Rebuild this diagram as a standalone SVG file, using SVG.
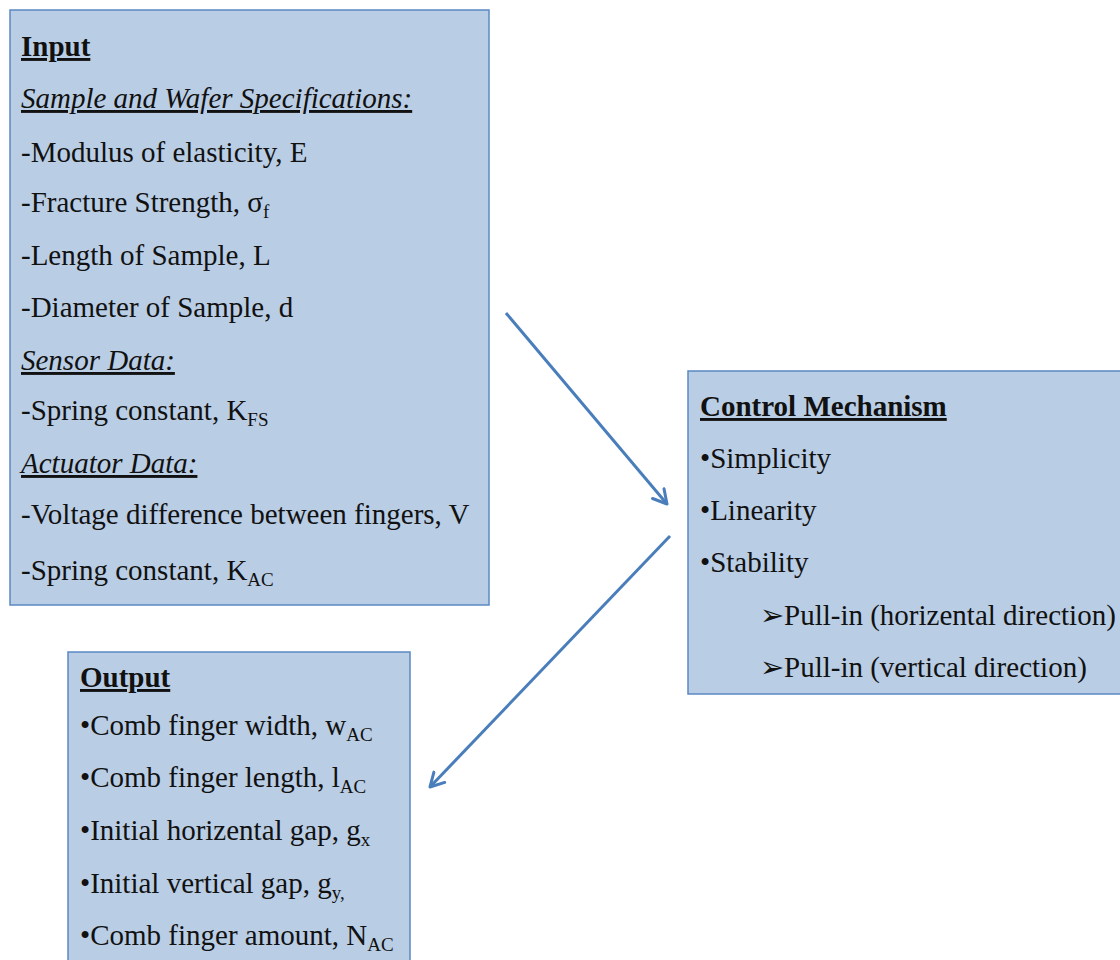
<svg xmlns="http://www.w3.org/2000/svg" width="1120" height="960" viewBox="0 0 1120 960">
  <defs>
    <style>
      .box { fill: #b9cde5; stroke: #5b88c2; stroke-width: 1.5; }
      .t { font-family: "Liberation Serif", "Times New Roman", serif; font-size: 29px; fill: #111; }
      .h { font-weight: bold; text-decoration: underline; }
      .sub { text-decoration: underline; font-style: italic; }
      .s { font-size: 19px; }
      .conn { stroke: #4a7ebb; stroke-width: 3; fill: none; }
    </style>
    <marker id="arrow" viewBox="0 0 12 12" refX="10" refY="6" markerWidth="6" markerHeight="6" markerUnits="strokeWidth" orient="auto">
      <path d="M1,1 L10,6 L1,11" fill="none" stroke="#4a7ebb" stroke-width="2" stroke-linecap="round" stroke-linejoin="round"/>
    </marker>
  </defs>
  <rect width="1120" height="960" fill="#ffffff"/>

  <g id="input">
    <rect class="box" x="10" y="10" width="479" height="595"/>
    <text class="t h" x="21" y="56">Input</text>
    <text class="t sub" x="21" y="108">Sample and Wafer Specifications:</text>
    <text class="t" x="21" y="162">-Modulus of elasticity, E</text>
    <text class="t" x="21" y="212">-Fracture Strength, σ<tspan class="s" dy="6">f</tspan></text>
    <text class="t" x="21" y="265">-Length of Sample, L</text>
    <text class="t" x="21" y="317">-Diameter of Sample, d</text>
    <text class="t sub" x="21" y="370">Sensor Data:</text>
    <text class="t" x="21" y="420">-Spring constant, K<tspan class="s" dy="6">FS</tspan></text>
    <text class="t sub" x="21" y="473">Actuator Data:</text>
    <text class="t" x="21" y="524">-Voltage difference between fingers, V</text>
    <text class="t" x="21" y="580">-Spring constant, K<tspan class="s" dy="6">AC</tspan></text>
  </g>

  <g id="control">
    <rect class="box" x="688" y="371" width="440" height="323"/>
    <text class="t h" x="700" y="416">Control Mechanism</text>
    <text class="t" x="700" y="468">•Simplicity</text>
    <text class="t" x="700" y="520">•Linearity</text>
    <text class="t" x="700" y="572">•Stability</text>
    <text class="t" x="760" y="625">➢Pull-in (horizental direction)</text>
    <text class="t" x="760" y="677">➢Pull-in (vertical direction)</text>
  </g>

  <g id="output">
    <rect class="box" x="68" y="652" width="342" height="320"/>
    <text class="t h" x="80" y="687">Output</text>
    <text class="t" x="80" y="735">•Comb finger width, w<tspan class="s" dy="6">AC</tspan></text>
    <text class="t" x="80" y="787">•Comb finger length, l<tspan class="s" dy="6">AC</tspan></text>
    <text class="t" x="80" y="840">•Initial horizental gap, g<tspan class="s" dy="6">x</tspan></text>
    <text class="t" x="80" y="893">•Initial vertical gap, g<tspan class="s" dy="6">y,</tspan></text>
    <text class="t" x="80" y="945">•Comb finger amount, N<tspan class="s" dy="6">AC</tspan></text>
  </g>

  <g id="connectors">
    <line class="conn" x1="506" y1="313" x2="667" y2="504" marker-end="url(#arrow)"/>
    <line class="conn" x1="670" y1="536" x2="430" y2="787" marker-end="url(#arrow)"/>
  </g>
</svg>
